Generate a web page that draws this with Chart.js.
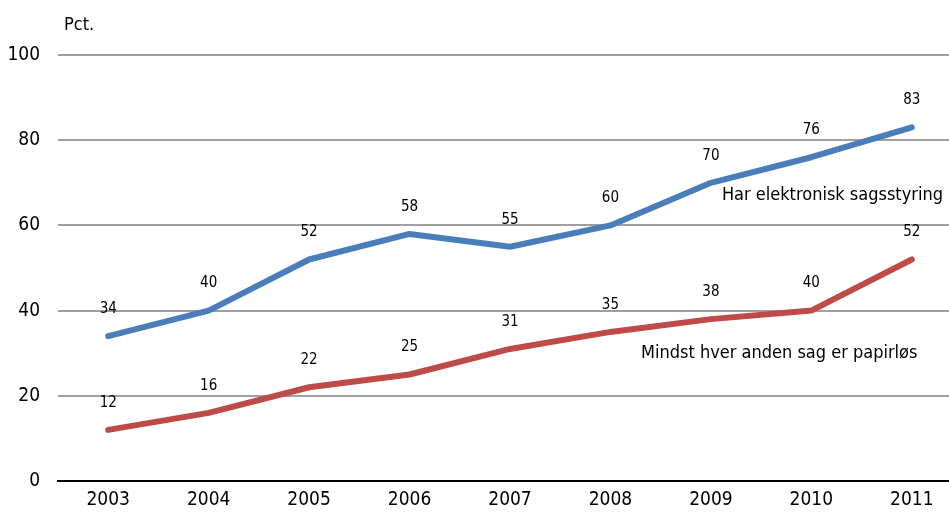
<!DOCTYPE html>
<html>
<head>
<meta charset="utf-8">
<script src="https://cdn.jsdelivr.net/npm/chart.js@4"></script>
<style>
  html, body { margin: 0; padding: 0; background: #fff; overflow: hidden; width: 949px; height: 516px; }
  #wrap { position: relative; width: 962px; height: 516px; }
</style>
</head>
<body>
<div id="wrap"><canvas id="myChart"></canvas></div>
<script>
const years = ["2003", "2004", "2005", "2006", "2007", "2008", "2009", "2010", "2011"];
const electronic = [34, 40, 52, 58, 55, 60, 70, 76, 83];
const paperless = [12, 16, 22, 25, 31, 35, 38, 40, 52];
const yTicks = [0, 20, 40, 60, 80, 100];

const FONT = "'Liberation Sans Narrow', 'DejaVu Sans Condensed', 'Open Sans', sans-serif";

// values above points + series names + "Pct."
const labelsPlugin = {
  id: "labels",
  afterDatasetsDraw(chart) {
    const ctx = chart.ctx;
    const y = chart.scales.y;
    ctx.save();
    ctx.fillStyle = "#000";
    ctx.textAlign = "center";
    ctx.textBaseline = "middle";
    ctx.font = "15px " + FONT;
    chart.data.datasets.forEach((ds, i) => {
      chart.getDatasetMeta(i).data.forEach((pt, j) => {
        ctx.fillText(ds.data[j], pt.x, pt.y - 27);
      });
    });
    ctx.font = "18px " + FONT;
    ctx.textAlign = "right";
    ctx.fillText("Har elektronisk sagsstyring", 943, y.getPixelForValue(67));
    ctx.textAlign = "left";
    ctx.fillText("Mindst hver anden sag er papirløs", 641, y.getPixelForValue(30));
    ctx.fillText("Pct.", 64, 25);
    ctx.restore();
  },
};

const lineStyle = { borderWidth: 6, pointRadius: 0, tension: 0, borderCapStyle: "round", borderJoinStyle: "round" };

new Chart(document.getElementById("myChart"), {
  type: "line",
  data: {
    labels: years,
    datasets: [
      { label: "Har elektronisk sagsstyring", data: electronic, borderColor: "#4a7ebb", ...lineStyle },
      { label: "Mindst hver anden sag er papirløs", data: paperless, borderColor: "#be4b48", ...lineStyle },
    ],
  },
  options: {
    responsive: true,
    maintainAspectRatio: false,
    animation: false,
    layout: { padding: { top: 55, right: 0, left: 0, bottom: 0 } },
    plugins: { legend: { display: false }, tooltip: { enabled: false } },
    scales: {
      x: {
        offset: true,
        grid: { display: false, drawTicks: false },
        border: { color: "#000", width: 2 },
        ticks: { color: "#000", font: { family: FONT, size: 19 }, padding: 8, maxRotation: 0 },
        afterFit: (s) => { s.height = 35; },
      },
      y: {
        min: 0,
        max: 100,
        afterBuildTicks: (s) => { s.ticks = yTicks.map((v) => ({ value: v })); },
        grid: {
          color: (c) => (c.tick.value === 0 ? "#000" : "#a0a0a0"),
          lineWidth: 2,
          drawTicks: false,
        },
        border: { display: false },
        ticks: { color: "#000", font: { family: FONT, size: 19 }, padding: 18 },
        afterFit: (s) => { s.width = 58; },
      },
    },
  },
  plugins: [labelsPlugin],
});
</script>
</body>
</html>
